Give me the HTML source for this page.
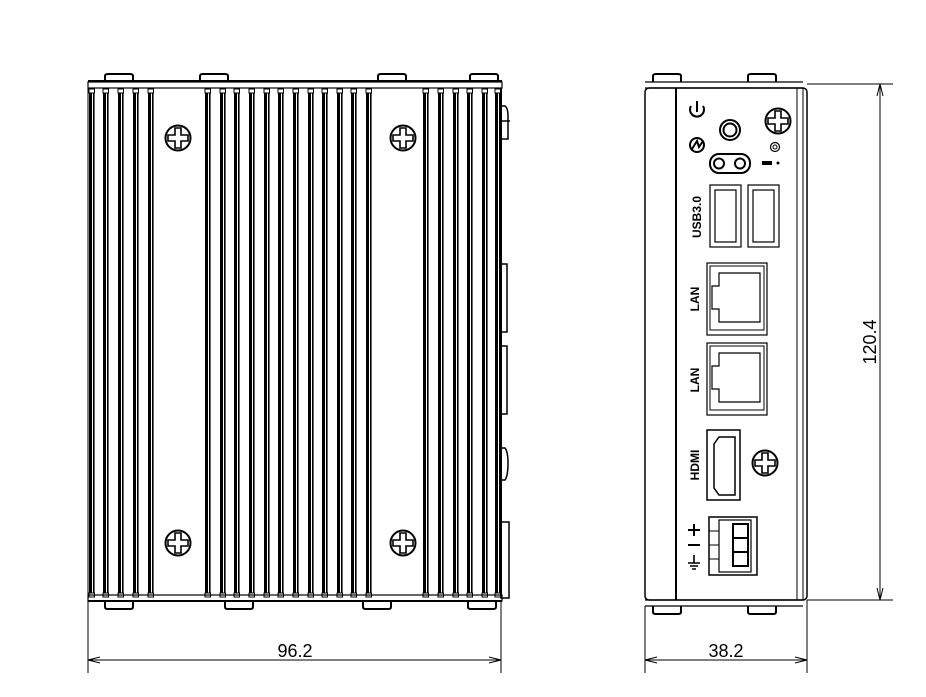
<!DOCTYPE html>
<html><head><meta charset="utf-8"><style>
html,body{margin:0;padding:0;background:#fff;width:926px;height:697px;overflow:hidden}
svg{display:block}
text{font-family:"Liberation Sans",sans-serif}
</style></head><body>
<svg width="926" height="697" viewBox="0 0 926 697" xmlns="http://www.w3.org/2000/svg">
<defs>
<g id="fin" fill="none" stroke="#000">
<rect x="0" y="89" width="5.5" height="4" stroke-width="1"/>
<line x1="1.5" y1="93" x2="1.5" y2="593" stroke-width="3"/>
<line x1="4.8" y1="93" x2="4.8" y2="593" stroke-width="1.6"/>
<rect x="0" y="593" width="5.5" height="4" stroke-width="1"/>
</g>
<g id="scr" fill="none" stroke="#000" stroke-width="2">
<circle r="12.5"/>
<path d="M-3,-10 H3 V-3 H10 V3 H3 V10 H-3 V3 H-10 V-3 H-3 Z" stroke-width="1.6"/>
</g>
<g id="foot" fill="none" stroke="#000" stroke-width="2">
<path d="M0,8 V2 Q0,0 3,0 H25 Q28,0 28,2 V8"/>
</g>
<g id="footb" fill="none" stroke="#000" stroke-width="2">
<path d="M0,0 V6 Q0,8 3,8 H25 Q28,8 28,6 V0"/>
</g>
</defs>

<g fill="none" stroke="#000">
<rect x="88" y="82" width="414" height="6" stroke-width="1.2"/>
<line x1="88" y1="81" x2="502" y2="81" stroke-width="2"/>
<line x1="88" y1="88" x2="502" y2="88" stroke-width="1"/>
<rect x="88" y="595" width="414" height="6" stroke-width="1.2"/>
<line x1="88" y1="601" x2="502" y2="601" stroke-width="2"/>
<line x1="88" y1="88" x2="88" y2="597" stroke-width="1"/>
<line x1="501" y1="88" x2="501" y2="597" stroke-width="2"/>
</g>
<use href="#foot" x="105" y="74"/><use href="#foot" x="200" y="74"/><use href="#foot" x="378" y="74"/><use href="#foot" x="470" y="74"/>
<use href="#footb" x="105" y="601"/><use href="#footb" x="225" y="601"/><use href="#footb" x="363" y="601"/><use href="#footb" x="468" y="601"/>

<use href="#fin" x="89"/><use href="#fin" x="103"/><use href="#fin" x="118"/><use href="#fin" x="133"/><use href="#fin" x="148"/>
<use href="#fin" x="205"/><use href="#fin" x="220"/><use href="#fin" x="234"/><use href="#fin" x="249"/><use href="#fin" x="264"/><use href="#fin" x="278"/><use href="#fin" x="293"/><use href="#fin" x="308"/><use href="#fin" x="322"/><use href="#fin" x="337"/><use href="#fin" x="351"/><use href="#fin" x="366"/>
<use href="#fin" x="423"/><use href="#fin" x="438"/><use href="#fin" x="453"/><use href="#fin" x="467"/><use href="#fin" x="482"/><use href="#fin" x="495"/>

<use href="#scr" x="178" y="138"/><use href="#scr" x="403" y="138"/>
<use href="#scr" x="178" y="543"/><use href="#scr" x="403" y="543"/>

<g fill="none" stroke="#000" stroke-width="1.5">
<path d="M501,106 H505 Q508,108 508,116 V139 H501"/>
<line x1="501" y1="121" x2="510" y2="121"/>
<rect x="501" y="264" width="6" height="68"/>
<rect x="501" y="346" width="6" height="68"/>
<path d="M501,448 H505 Q508,452 508,463 Q508,476 505,480 H501"/>
<rect x="501" y="522" width="8" height="76"/>
</g>

<g stroke="#000" fill="none" stroke-width="1">
<line x1="88" y1="600" x2="88" y2="673"/>
<line x1="501" y1="600" x2="501" y2="673"/>
<line x1="88" y1="660" x2="501" y2="660"/>
<path d="M88,660 L100,657 M88,660 L100,663 M501,660 L489,657 M501,660 L489,663"/>
</g>
<text x="295" y="657" font-size="18" text-anchor="middle" fill="#000">96.2</text>

<g fill="none" stroke="#000">
<rect x="645" y="88" width="162" height="512" rx="4" stroke-width="1.5"/>
<line x1="676" y1="88" x2="676" y2="600" stroke-width="2"/>
<line x1="645" y1="82" x2="803" y2="82" stroke-width="1.2"/>
<line x1="645" y1="88" x2="803" y2="88" stroke-width="1.2"/>
<line x1="797" y1="88" x2="797" y2="600" stroke-width="1"/>
<line x1="803" y1="88" x2="803" y2="600" stroke-width="1"/>
<line x1="645" y1="600" x2="803" y2="600" stroke-width="1.2"/>
<line x1="645" y1="606" x2="803" y2="606" stroke-width="1.2"/>
</g>
<use href="#foot" x="653" y="74"/><use href="#foot" x="748" y="74"/>
<use href="#footb" x="653" y="606"/><use href="#footb" x="748" y="606"/>

<g fill="none" stroke="#000" stroke-width="2">
<path d="M691,106 A7,7 0 1 0 703,106"/><line x1="697" y1="101" x2="697" y2="112"/>
<circle cx="697" cy="145" r="7"/><path d="M692,149 L697,141 L699,147 L703,141"/>
<circle cx="730" cy="130" r="10"/><circle cx="730" cy="130" r="6.5"/>
<rect x="710" y="154" width="40" height="19" rx="9" stroke-width="2"/>
<circle cx="719" cy="163.5" r="5"/><circle cx="740" cy="163.5" r="5"/>
<circle cx="775" cy="147" r="4.5" stroke-width="1.2"/><circle cx="775" cy="147" r="2" stroke-width="1"/>
<rect x="710" y="185" width="31" height="62" stroke-width="1.2"/><rect x="715" y="190" width="21" height="52" stroke-width="1.2"/>
<rect x="748" y="185" width="31" height="62" stroke-width="1.2"/><rect x="753" y="190" width="21" height="52" stroke-width="1.2"/>
<rect x="707" y="263" width="60" height="72" stroke-width="1.2"/><rect x="710" y="266" width="54" height="64" stroke-width="1"/>
<path d="M719,273 H760 V322 H719 V309 H712 V286 H719 Z" stroke-width="1.2"/>
<rect x="707" y="343" width="60" height="72" stroke-width="1.2"/><rect x="710" y="346" width="54" height="64" stroke-width="1"/>
<path d="M719,353 H760 V402 H719 V389 H712 V366 H719 Z" stroke-width="1.2"/>
<rect x="707" y="430" width="33" height="70" stroke-width="1.5"/>
<path d="M719,437 H735 V495 H719 L714,488 V444 Z" stroke-width="1.5"/>
<rect x="709" y="517" width="48" height="58" stroke-width="1.5"/>
<rect x="719" y="520" width="32" height="52" stroke-width="1.2"/>
<rect x="733" y="524" width="15" height="14"/><rect x="733" y="538" width="15" height="14"/><rect x="733" y="552" width="15" height="14"/>
<line x1="709" y1="531" x2="719" y2="531" stroke-width="1"/><line x1="709" y1="545" x2="719" y2="545" stroke-width="1"/><line x1="709" y1="559" x2="719" y2="559" stroke-width="1"/>
</g>
<rect x="762" y="161" width="10" height="4" fill="#000"/><circle cx="778" cy="163" r="1.5" fill="#000"/>
<use href="#scr" x="778" y="121"/><use href="#scr" x="765" y="463"/>

<g font-weight="bold" font-size="12" fill="#000" text-anchor="middle">
<text transform="translate(701,217) rotate(-90)">USB3.0</text>
<text transform="translate(699,299) rotate(-90)">LAN</text>
<text transform="translate(699,380) rotate(-90)">LAN</text>
<text transform="translate(699,465) rotate(-90)">HDMI</text>
</g>
<g stroke="#000" stroke-width="2" fill="none">
<path d="M688,530 H700 M694,524 V536"/>
<path d="M688,545 H700"/>
<path d="M694,555 V563 M688,563 V569 M688,563 H700 M700,563 V569" stroke-width="0"/>
<path d="M694,555 V563 M688,563 H700 M690,566 H698 M692,569 H696" stroke-width="1.6"/>
</g>

<g stroke="#000" fill="none" stroke-width="1">
<line x1="807" y1="84" x2="893" y2="84"/>
<line x1="807" y1="600" x2="893" y2="600"/>
<line x1="880" y1="84" x2="880" y2="600"/>
<path d="M880,84 L877,96 M880,84 L883,96 M880,600 L877,588 M880,600 L883,588"/>
<line x1="645" y1="606" x2="645" y2="673"/>
<line x1="807" y1="600" x2="807" y2="673"/>
<line x1="645" y1="660" x2="807" y2="660"/>
<path d="M645,660 L657,657 M645,660 L657,663 M807,660 L795,657 M807,660 L795,663"/>
</g>
<text transform="translate(876,342) rotate(-90)" font-size="18" text-anchor="middle" fill="#000">120.4</text>
<text x="726" y="657" font-size="18" text-anchor="middle" fill="#000">38.2</text>
</svg>
</body></html>
